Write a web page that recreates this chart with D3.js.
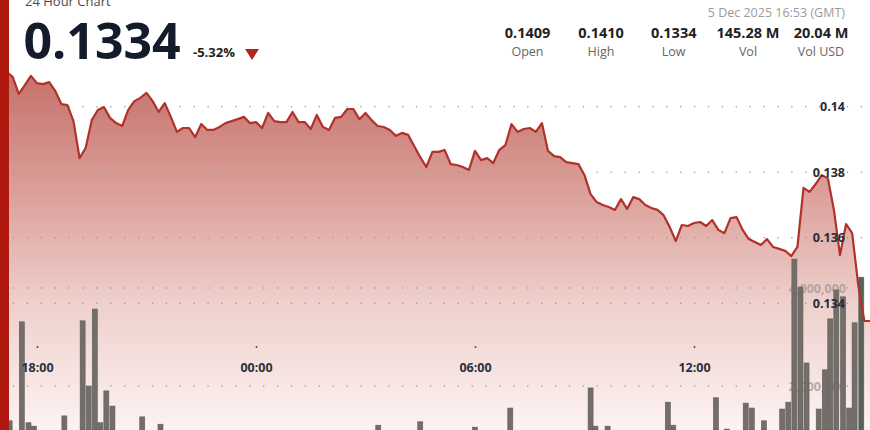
<!DOCTYPE html>
<html><head><meta charset="utf-8">
<script src="https://cdn.jsdelivr.net/npm/d3@7"></script>
<style>
html,body{margin:0;padding:0;background:#fff;overflow:hidden}
svg{display:block;font-family:"Open Sans",sans-serif}
</style></head><body>
<svg id="chart" width="870" height="430"></svg>
<script>
// ---------- DATA ----------
const priceStart = "2025-12-04T17:00";   // first 10-minute sample
const priceStepMinutes = 10;
const prices = [
  0.14106,0.14106,0.14091,0.14039,0.14066,0.14094,0.14072,0.14069,0.14075,0.14048,
  0.14008,0.14005,0.13956,0.13843,0.13874,0.13959,0.13990,0.13999,0.13966,0.13950,
  0.13941,0.13990,0.14017,0.14027,0.14042,0.14017,0.13984,0.14011,0.13969,0.13923,
  0.13935,0.13935,0.13907,0.13947,0.13929,0.13929,0.13938,0.13950,0.13956,0.13962,
  0.13969,0.13950,0.13953,0.13935,0.13981,0.13956,0.13953,0.13953,0.13984,0.13953,
  0.13953,0.13932,0.13975,0.13938,0.13929,0.13966,0.13969,0.13993,0.13993,0.13962,
  0.13981,0.13959,0.13941,0.13938,0.13929,0.13911,0.13920,0.13914,0.13880,0.13846,
  0.13816,0.13862,0.13862,0.13868,0.13825,0.13822,0.13816,0.13807,0.13865,0.13837,
  0.13843,0.13828,0.13868,0.13883,0.13947,0.13923,0.13932,0.13935,0.13923,0.13950,
  0.13865,0.13849,0.13846,0.13831,0.13828,0.13825,0.13791,0.13733,0.13709,0.13700,
  0.13694,0.13685,0.13718,0.13688,0.13724,0.13718,0.13700,0.13691,0.13685,0.13669,
  0.13633,0.13590,0.13639,0.13636,0.13645,0.13648,0.13636,0.13654,0.13624,0.13614,
  0.13660,0.13663,0.13624,0.13596,0.13587,0.13578,0.13596,0.13572,0.13566,0.13560,
  0.13544,0.13572,0.13752,0.13740,0.13764,0.13791,0.13782,0.13685,0.13547,0.13642,
  0.13614,0.13456,0.13346
];
const lastTime = "2025-12-05T16:53";
const lastPrice = 0.13346;

const volTimes = [
  "2025-12-04T17:15","2025-12-04T17:35","2025-12-04T17:46","2025-12-04T17:55",
  "2025-12-04T18:45","2025-12-04T19:15","2025-12-04T19:25","2025-12-04T19:35",
  "2025-12-04T19:44","2025-12-04T19:54","2025-12-04T20:04","2025-12-04T20:53",
  "2025-12-04T21:23","2025-12-05T03:21","2025-12-05T04:30","2025-12-05T06:00",
  "2025-12-05T06:58","2025-12-05T09:10","2025-12-05T09:18","2025-12-05T09:38",
  "2025-12-05T11:17","2025-12-05T11:26","2025-12-05T12:36","2025-12-05T12:54",
  "2025-12-05T13:25","2025-12-05T13:35","2025-12-05T13:55","2025-12-05T14:25",
  "2025-12-05T14:35","2025-12-05T14:45","2025-12-05T14:55","2025-12-05T15:05",
  "2025-12-05T15:25","2025-12-05T15:35","2025-12-05T15:44","2025-12-05T15:54",
  "2025-12-05T16:05","2025-12-05T16:15","2025-12-05T16:24","2025-12-05T16:35"
];
const volValues = [
  1290000,3310000,1250000,1180000,
  1390000,3330000,2000000,3570000,
  1250000,1900000,1590000,1370000,
  1220000,1200000,1270000,1160000,
  1550000,1960000,1180000,1180000,
  1670000,1200000,1760000,1120000,
  1650000,1550000,1290000,1530000,
  1670000,4590000,4020000,2470000,
  1530000,2330000,3370000,3960000,
  3820000,1550000,3290000,4220000
];

const priceTicks = [0.134, 0.136, 0.138, 0.14];
const volTicks = [2000000, 4000000];
const timeTicks = ["2025-12-04T18:00","2025-12-05T00:00","2025-12-05T06:00","2025-12-05T12:00"];

const chartTitle = "24 Hour Chart";
const currentPrice = "0.1334";
const changePct = "-5.32%";
const timestampLabel = "5 Dec 2025 16:53 (GMT)";
const statValues = ["0.1409","0.1410","0.1334","145.28 M","20.04 M"];
const statLabels = ["Open","High","Low","Vol","Vol USD"];

// ---------- CHART ----------
const parse = d3.timeParse("%Y-%m-%dT%H:%M");
const t0 = parse(priceStart);
const priceData = prices.map((p, i) => ({t: d3.timeMinute.offset(t0, i * priceStepMinutes), p}));
priceData.push({t: parse(lastTime), p: lastPrice});
const volData = volTimes.map((s, i) => ({t: parse(s), v: volValues[i]}));

const svg = d3.select("#chart");
const x = d3.scaleTime().domain([parse("2025-12-04T17:00"), parse("2025-12-05T17:00")]).range([0.5, 876.5]);
const y = d3.scaleLinear().domain([0.134, 0.14]).range([303.3, 106.7]);
const yv = d3.scaleLinear().domain([0, 4000000]).range([484, 288]);

const defs = svg.append("defs");
const grad = defs.append("linearGradient").attr("id", "fillGrad")
  .attr("gradientUnits", "userSpaceOnUse").attr("x1", 0).attr("y1", 70).attr("x2", 0).attr("y2", 430);
[[0, "#c56f69"], [0.35, "#dca19b"], [0.65, "#eed0cc"], [1, "#fdf3f2"]].forEach(([o, c]) =>
  grad.append("stop").attr("offset", o).attr("stop-color", c));

const area = d3.area().x(d => x(d.t)).y0(430).y1(d => y(d.p));
svg.append("path").datum(priceData).attr("d", area).attr("fill", "url(#fillGrad)");

// grid lines (dotted)
const gridG = svg.append("g");
[...priceTicks.map(v => y(v)), ...volTicks.map(v => yv(v))].forEach(gy => {
  gridG.append("line").attr("x1", 13.5).attr("x2", 870).attr("y1", gy).attr("y2", gy)
    .attr("stroke", "#9c9a9a").attr("stroke-width", 1.6).attr("stroke-linecap", "round")
    .attr("stroke-dasharray", "0,13.9");
});

// volume axis labels (behind bars)
const volAxis = d3.axisLeft(yv).tickValues(volTicks).tickFormat(d3.format(",")).tickSize(0).tickPadding(2);
const va = svg.append("g").attr("transform", "translate(848,0)").call(volAxis);
va.select(".domain").remove();
va.selectAll("text").attr("font-family", "Open Sans").attr("font-size", 12.5).attr("font-weight", 700)
  .attr("fill", "#a29a98").attr("fill-opacity", 0.8);

// volume bars
svg.append("g").selectAll("rect").data(volData).join("rect")
  .attr("x", d => x(d.t) - 2.5).attr("width", 5)
  .attr("y", d => yv(d.v)).attr("height", d => 430 - yv(d.v))
  .attr("fill", (d, i) => i === volData.length - 1 ? "#59615b" : "#736e6a")
  .attr("stroke", "#5f5b57").attr("stroke-width", 0.6);

// price line
const line = d3.line().x(d => x(d.t)).y(d => y(d.p));
svg.append("path").datum(priceData).attr("d", line).attr("fill", "none")
  .attr("stroke", "#b0322a").attr("stroke-width", 2.2).attr("stroke-linejoin", "round");

// price axis labels
const priceAxis = d3.axisLeft(y).tickValues(priceTicks).tickFormat(d => String(+d.toFixed(3))).tickSize(0).tickPadding(3);
const pa = svg.append("g").attr("transform", "translate(848,0)").call(priceAxis);
pa.select(".domain").remove();
pa.selectAll("text").attr("font-family", "Open Sans").attr("font-size", 12.5).attr("font-weight", 700)
  .attr("fill", "#262c36");

// time axis
const timeAxis = d3.axisBottom(x).tickValues(timeTicks.map(parse)).tickFormat(d3.timeFormat("%H:%M"))
  .tickSize(0).tickPadding(0);
const ta = svg.append("g").attr("transform", "translate(0,347)").call(timeAxis);
ta.select(".domain").remove();
ta.selectAll(".tick").append("circle").attr("r", 0.9).attr("fill", "#444");
ta.selectAll("text").attr("y", 24.5).attr("dy", null).attr("font-family", "Open Sans")
  .attr("font-size", 12.5).attr("font-weight", 700).attr("fill", "#2a303a");

// left red bar
svg.append("rect").attr("x", 0).attr("y", 0).attr("width", 9).attr("height", 430).attr("fill", "#b0190f");

// header
svg.append("text").attr("x", 25).attr("y", 5.5).text(chartTitle)
  .attr("font-size", 13).attr("fill", "#4a4a4a");
svg.append("text").attr("x", 23.5).attr("y", 59.3).text(currentPrice)
  .attr("font-size", 50).attr("font-weight", 700).attr("fill", "#141c2b");
svg.append("text").attr("x", 193).attr("y", 57).text(changePct)
  .attr("font-size", 13).attr("font-weight", 700).attr("fill", "#222");
svg.append("path").attr("d", "M245,49 L259,49 L252,60 Z").attr("fill", "#b3241b");

svg.append("text").attr("x", 845).attr("y", 17).attr("text-anchor", "end").text(timestampLabel)
  .attr("font-size", 12.5).attr("fill", "#9b9b9b");
const statX = [527.5, 601, 673.7, 748, 821];
statValues.forEach((v, i) => {
  svg.append("text").attr("x", statX[i]).attr("y", 38.3).attr("text-anchor", "middle").text(v)
    .attr("font-size", 14.5).attr("font-weight", 700).attr("fill", "#222");
  svg.append("text").attr("x", statX[i]).attr("y", 55.5).attr("text-anchor", "middle").text(statLabels[i])
    .attr("font-size", 12.5).attr("fill", "#666");
});
</script>
</body></html>
